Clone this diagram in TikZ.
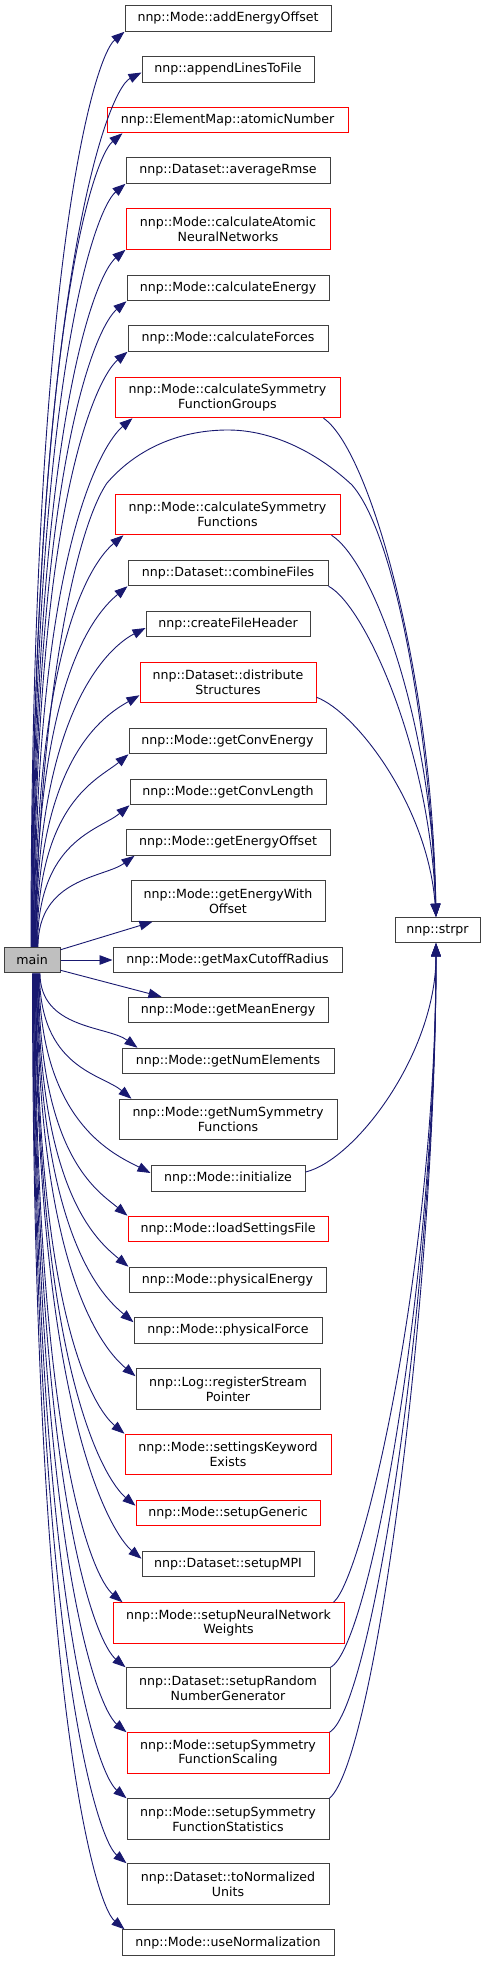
\documentclass[tikz,border=0pt]{standalone}
\usepackage{fontspec}
\setmainfont{DejaVu Sans}
\usetikzlibrary{arrows.meta}
\definecolor{eg}{HTML}{191970}
\definecolor{bx}{HTML}{404040}
\definecolor{rd}{HTML}{FF0000}
\definecolor{mg}{HTML}{BFBFBF}
\newcommand{\fs}{\fontsize{12.6}{14.7}\selectfont}
\tikzset{
  fn/.style={draw=bx, line width=1pt, fill=white, inner sep=0pt, align=center, font=\fs, minimum height=25.5pt},
  fnr/.style={fn, draw=rd},
  tall/.style={minimum height=40.5pt},
  call/.style={draw=eg, line width=0.9pt, -{Triangle[length=13pt,width=9.5pt]}}
}
\begin{document}
\begin{tikzpicture}[x=1pt,y=-1pt]
\useasboundingbox (0,0) rectangle (485,1961);
\node[fn, fill=mg, minimum width=56pt] (main) at (32,960) {main};
\node[fn, minimum width=85pt] (strpr) at (437.5,930) {nnp::strpr};
\node[fn, minimum width=206pt] (n1) at (228,18.5) {nnp::Mode::addEnergyOffset};
\node[fn, minimum width=172pt] (n2) at (228,69.5) {nnp::appendLinesToFile};
\node[fnr, minimum width=241pt] (n3) at (227.5,120) {nnp::ElementMap::atomicNumber};
\node[fn, minimum width=204pt] (n4) at (228,170.5) {nnp::Dataset::averageRmse};
\node[fnr, tall, minimum width=204pt] (n5) at (228,229) {nnp::Mode::calculateAtomic\\NeuralNetworks};
\node[fn, minimum width=202pt] (n6) at (228,288) {nnp::Mode::calculateEnergy};
\node[fn, minimum width=200pt] (n7) at (228,338.5) {nnp::Mode::calculateForces};
\node[fnr, tall, minimum width=225pt] (n8) at (227.5,397.5) {nnp::Mode::calculateSymmetry\\FunctionGroups};
\node[fnr, tall, minimum width=225pt] (n9) at (227.5,514.5) {nnp::Mode::calculateSymmetry\\Functions};
\node[fn, minimum width=200pt] (n10) at (228,573) {nnp::Dataset::combineFiles};
\node[fn, minimum width=164pt] (n11) at (228,624) {nnp::createFileHeader};
\node[fnr, tall, minimum width=176pt] (n12) at (228,682.5) {nnp::Dataset::distribute\\Structures};
\node[fn, minimum width=197pt] (n13) at (227.5,741) {nnp::Mode::getConvEnergy};
\node[fn, minimum width=196pt] (n14) at (228,792) {nnp::Mode::getConvLength};
\node[fn, minimum width=204pt] (n15) at (228,842.5) {nnp::Mode::getEnergyOffset};
\node[fn, tall, minimum width=194pt] (n16) at (228,901) {nnp::Mode::getEnergyWith\\Offset};
\node[fn, minimum width=229pt] (n17) at (227.5,960) {nnp::Mode::getMaxCutoffRadius};
\node[fn, minimum width=200pt] (n18) at (228,1010) {nnp::Mode::getMeanEnergy};
\node[fn, minimum width=212pt] (n19) at (228,1061) {nnp::Mode::getNumElements};
\node[fn, tall, minimum width=218pt] (n20) at (228,1119.5) {nnp::Mode::getNumSymmetry\\Functions};
\node[fn, minimum width=154pt] (n21) at (228,1178.5) {nnp::Mode::initialize};
\node[fnr, minimum width=200pt] (n22) at (228,1229) {nnp::Mode::loadSettingsFile};
\node[fn, minimum width=197pt] (n23) at (227.5,1280) {nnp::Mode::physicalEnergy};
\node[fn, minimum width=188pt] (n24) at (228,1330.5) {nnp::Mode::physicalForce};
\node[fn, tall, minimum width=184pt] (n25) at (228,1389) {nnp::Log::registerStream\\Pointer};
\node[fnr, tall, minimum width=206pt] (n26) at (228,1454.5) {nnp::Mode::settingsKeyword\\Exists};
\node[fnr, minimum width=184pt] (n27) at (228,1513) {nnp::Mode::setupGeneric};
\node[fn, minimum width=172pt] (n28) at (228,1564) {nnp::Dataset::setupMPI};
\node[fnr, tall, minimum width=231pt] (n29) at (228.5,1623) {nnp::Mode::setupNeuralNetwork\\Weights};
\node[fn, tall, minimum width=204pt] (n30) at (228,1688) {nnp::Dataset::setupRandom\\NumberGenerator};
\node[fnr, tall, minimum width=202pt] (n31) at (228,1753) {nnp::Mode::setupSymmetry\\FunctionScaling};
\node[fn, tall, minimum width=202pt] (n32) at (228,1819) {nnp::Mode::setupSymmetry\\FunctionStatistics};
\node[fn, tall, minimum width=202pt] (n33) at (228,1884) {nnp::Dataset::toNormalized\\Units};
\node[fn, minimum width=212pt] (n34) at (228,1942.5) {nnp::Mode::useNormalization};
% upper calls
\draw[call] ([xshift=-1pt]main.north) .. controls +(0,-687) and +(-30,25) .. (n1.south west);
\draw[call] ([xshift=-0.5pt]main.north) .. controls +(0,-655) and +(-35,18) .. ([yshift=-3pt]n2.west);
\draw[call] (main.north) .. controls +(0,-610) and +(-30,25) .. ([xshift=16pt]n3.south west);
\draw[call] ([xshift=0.5pt]main.north) .. controls +(0,-574) and +(-30,25) .. (n4.south west);
\draw[call] ([xshift=1pt]main.north) .. controls +(0,-525) and +(-30,25) .. (n5.south west);
\draw[call] ([xshift=1.5pt]main.north) .. controls +(0,-487) and +(-30,25) .. (n6.south west);
\draw[call] ([xshift=2pt]main.north) .. controls +(0,-448) and +(-30,25) .. (n7.south west);
\draw[call] ([xshift=2.5pt]main.north) .. controls +(0,-397) and +(-30,25) .. ([xshift=18pt]n8.south west);
\draw[call] ([xshift=3pt]main.north) .. controls +(0,-309) and +(-30,25) .. ([xshift=9pt]n9.south west);
\draw[call] ([xshift=3.5pt]main.north) .. controls +(0,-272) and +(-30,25) .. (n10.south west);
\draw[call] ([xshift=4pt]main.north) .. controls +(0,-239) and +(-35,18) .. ([yshift=-4pt]n11.west);
\draw[call] ([xshift=4.5pt]main.north) .. controls +(0,-189) and +(-35,20) .. ([yshift=8pt]n12.south west);
\draw[call] ([xshift=5pt]main.north) .. controls +(0,-145) and +(-30,25) .. (n13.south west);
\draw[call] ([xshift=5.5pt]main.north) .. controls +(0,-107) and +(-30,25) .. (n14.south west);
\draw[call] ([xshift=6pt]main.north) .. controls +(0,-69) and +(-30,22) .. ([xshift=9pt]n15.south west);
\draw[call] ([yshift=-3pt]main.north east) -- ([xshift=22pt]n16.south west);
\draw[call] (main.east) -- (n17.west);
\draw[call] ([yshift=3pt]main.south east) -- ([xshift=34pt]n18.north west);
% lower calls
\draw[call] ([xshift=8pt]main.south) .. controls +(0,56) and +(-30,-22) .. ([xshift=16pt]n19.north west);
\draw[call] ([xshift=7.5pt]main.south) .. controls +(0,95) and +(-30,-25) .. ([xshift=13pt]n20.north west);
\draw[call] ([xshift=7pt]main.south) .. controls +(0,150) and +(-35,-18) .. ([yshift=5.5pt]n21.west);
\draw[call] ([xshift=6.5pt]main.south) .. controls +(0,183) and +(-30,-25) .. (n22.north west);
\draw[call] ([xshift=6pt]main.south) .. controls +(0,221) and +(-30,-25) .. (n23.north west);
\draw[call] ([xshift=5.5pt]main.south) .. controls +(0,263) and +(-30,-25) .. ([yshift=-5pt]n24.north west);
\draw[call] ([xshift=5pt]main.south) .. controls +(0,303) and +(-30,-25) .. ([yshift=-8pt]n25.north west);
\draw[call] ([xshift=4.5pt]main.south) .. controls +(0,347) and +(-30,-25) .. (n26.north west);
\draw[call] ([xshift=4pt]main.south) .. controls +(0,400) and +(-30,-25) .. ([yshift=-6pt]n27.north west);
\draw[call] ([xshift=3.5pt]main.south) .. controls +(0,440) and +(-30,-25) .. ([yshift=-8pt]n28.north west);
\draw[call] ([xshift=3pt]main.south) .. controls +(0,473) and +(-30,-25) .. ([xshift=10pt]n29.north west);
\draw[call] ([xshift=2.5pt]main.south) .. controls +(0,522) and +(-30,-25) .. (n30.north west);
\draw[call] ([xshift=2pt]main.south) .. controls +(0,572) and +(-30,-25) .. (n31.north west);
\draw[call] ([xshift=1.5pt]main.south) .. controls +(0,621) and +(-30,-25) .. (n32.north west);
\draw[call] ([xshift=1pt]main.south) .. controls +(0,671) and +(-30,-25) .. (n33.north west);
\draw[call] ([xshift=0.5pt]main.south) .. controls +(0,718) and +(-30,-25) .. ([xshift=3pt]n34.north west);
% calls to strpr (top)
\draw[call] ([xshift=-17pt]n8.south east) .. controls +(45,30) and +(-4,-250) .. ([xshift=-1.5pt]strpr.north);
\draw[call] ([xshift=3pt]main.north) .. controls (40,700) and (75,530) .. (107,483)
   .. controls (140,445) and (185,430) .. (228,430)
   .. controls (275,430) and (320,455) .. (352,485)
   .. controls (400,540) and (432,760) .. ([xshift=-1.5pt]strpr.north);
\draw[call] ([xshift=-9pt]n9.south east) .. controls +(40,25) and +(-4,-200) .. ([xshift=-1.5pt]strpr.north);
\draw[call] (n10.south east) .. controls +(35,18) and +(-6,-170) .. ([xshift=-1.5pt]strpr.north);
\draw[call] ([yshift=6pt]n12.south east) .. controls +(40,15) and +(-8,-110) .. ([xshift=-1.5pt]strpr.north);
% calls to strpr (bottom)
\draw[call] ([yshift=6.5pt]n21.east) .. controls +(50,-12) and +(0,110) .. ([xshift=-1.5pt]strpr.south);
\draw[call] ([xshift=-11pt]n29.north east) .. controls +(30,-25) and +(0,320) .. ([xshift=-1.5pt]strpr.south);
\draw[call] (n30.north east) .. controls +(40,-20) and +(0,330) .. ([xshift=-1.5pt]strpr.south);
\draw[call] (n31.north east) .. controls +(43,-25) and +(0,340) .. ([xshift=-1.5pt]strpr.south);
\draw[call] (n32.north east) .. controls +(46,-39) and +(0,347) .. ([xshift=-1.5pt]strpr.south);
\end{tikzpicture}
\end{document}
